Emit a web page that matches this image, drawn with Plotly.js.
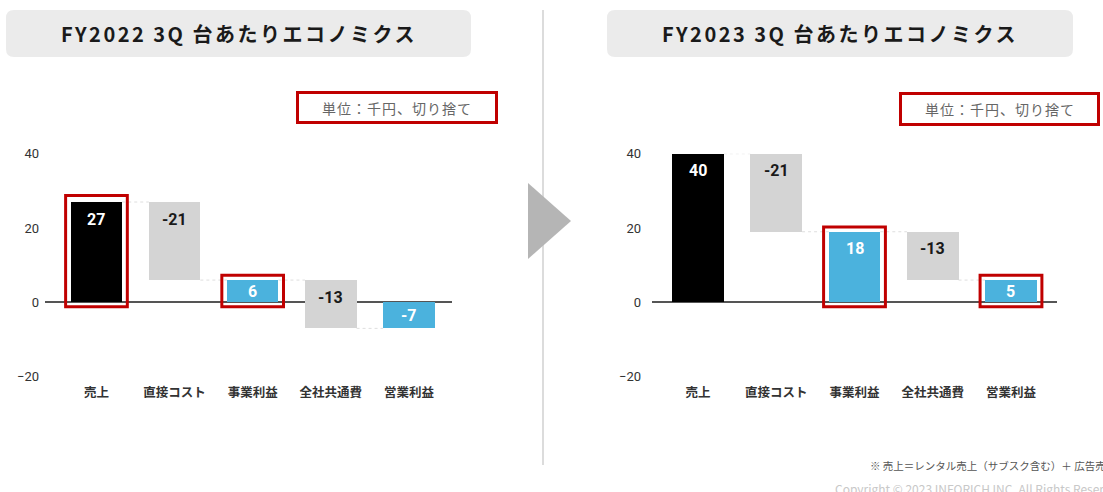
<!DOCTYPE html>
<html>
<head>
<meta charset="utf-8">
<script src="https://cdn.plot.ly/plotly-3.0.1.min.js"></script>
<style>
html,body{margin:0;padding:0;background:#fff;}
#chart{width:1103px;height:492px;}
g.annotation[data-index="0"] text, g.annotation[data-index="1"] text { letter-spacing: 2.5px; }
g.annotation[data-index="2"] text, g.annotation[data-index="3"] text { letter-spacing: 1px; }
</style>
</head>
<body>
<div id="chart"></div>
<script>
// ---- data ----
const categories = ['売上', '直接コスト', '事業利益', '全社共通費', '営業利益'];
const measures = ['absolute', 'relative', 'total', 'relative', 'total'];
const fy2022Values = [27, -21, null, -13, null];
const fy2022Labels = ['27', '-21', '6', '-13', '-7'];
const fy2023Values = [40, -21, null, -13, null];
const fy2023Labels = ['40', '-21', '18', '-13', '5'];
const fy2022Highlight = [0, 2];
const fy2023Highlight = [2, 4];
const yTicks = [-20, 0, 20, 40];
const panelTitles = ['FY2022 3Q 台あたりエコノミクス', 'FY2023 3Q 台あたりエコノミクス'];
const unitNote = '単位：千円、切り捨て';
const footnote = '※ 売上＝レンタル売上（サブスク含む）＋ 広告売上';
const copyright = 'Copyright © 2023 INFORICH INC. All Rights Reserved.';

// ---- styles ----
const colors = ['#000000', '#d4d4d4', '#4bb2dd', '#d4d4d4', '#4bb2dd'];
const labelColors = ['#ffffff', '#1a1a1a', '#ffffff', '#1a1a1a', '#ffffff'];
const RED = '#c00000';
const W = 1103, H = 492;
const px = v => v / W;
const py = v => 1 - v / H;
const JP = '"Noto Sans CJK JP", "Noto Sans", sans-serif';
const NUM = 'Roboto, "Noto Sans", sans-serif';

function build(values) {
  let cum = 0;
  const base = [], y = [], levels = [];
  values.forEach((v, i) => {
    const m = measures[i];
    if (m === 'absolute') { base.push(0); y.push(v); cum = v; }
    else if (m === 'relative') { base.push(cum); y.push(v); cum += v; }
    else { base.push(0); y.push(cum); }
    levels.push(cum);
  });
  return {base, y, levels};
}

const panels = [
  {vals: fy2022Values, labels: fy2022Labels, hl: fy2022Highlight, xa: 'x', ya: 'y'},
  {vals: fy2023Values, labels: fy2023Labels, hl: fy2023Highlight, xa: 'x2', ya: 'y2'}
];

const traces = [];
const shapes = [];
const annotations = [];

// title annotations first (indices 0,1), unit notes (2,3)
const titleCx = [238.5, 840];
titleCx.forEach((cx, k) => {
  annotations.push({xref: 'paper', yref: 'paper', x: px(cx), y: py(33.5), xanchor: 'center', yanchor: 'middle',
    text: panelTitles[k], showarrow: false, font: {family: JP, size: 20, color: '#1a1a1a', weight: 'bold'}});
});
const unitBoxes = [[296, 91, 498, 124], [899, 92, 1100, 126]];
unitBoxes.forEach(b => {
  annotations.push({xref: 'paper', yref: 'paper', x: px((b[0] + b[2]) / 2), y: py((b[1] + b[3]) / 2), xanchor: 'center', yanchor: 'middle',
    text: unitNote, showarrow: false, font: {family: JP, size: 14, color: '#666666'}});
});

// background decorations
const r = 8;
[[6, 10, 471, 57], [607, 10, 1073, 57]].forEach(b => {
  const [x0, y0, x1, y1] = b;
  const p = `M ${px(x0 + r)} ${py(y0)} L ${px(x1 - r)} ${py(y0)} Q ${px(x1)} ${py(y0)} ${px(x1)} ${py(y0 + r)} ` +
    `L ${px(x1)} ${py(y1 - r)} Q ${px(x1)} ${py(y1)} ${px(x1 - r)} ${py(y1)} L ${px(x0 + r)} ${py(y1)} ` +
    `Q ${px(x0)} ${py(y1)} ${px(x0)} ${py(y1 - r)} L ${px(x0)} ${py(y0 + r)} Q ${px(x0)} ${py(y0)} ${px(x0 + r)} ${py(y0)} Z`;
  shapes.push({type: 'path', xref: 'paper', yref: 'paper', path: p, fillcolor: '#ebebeb', line: {width: 0}, layer: 'below'});
});
unitBoxes.forEach(b => {
  shapes.push({type: 'rect', xref: 'paper', yref: 'paper', x0: px(b[0] + 1.5), x1: px(b[2] - 1.5), y0: py(b[1] + 1.5), y1: py(b[3] - 1.5),
    line: {color: RED, width: 3}, fillcolor: 'rgba(0,0,0,0)'});
});
// separator and arrow
shapes.push({type: 'line', xref: 'paper', yref: 'paper', x0: px(543), x1: px(543), y0: py(10), y1: py(465), line: {color: '#dcdcdc', width: 2}});
shapes.push({type: 'path', xref: 'paper', yref: 'paper', path: `M ${px(528)} ${py(183)} L ${px(571)} ${py(221)} L ${px(528)} ${py(259)} Z`,
  fillcolor: '#b5b5b5', line: {width: 0}});

panels.forEach(P => {
  const d = build(P.vals);
  // connectors
  for (let i = 0; i < categories.length - 1; i++) {
    shapes.push({type: 'line', xref: P.xa, yref: P.ya, x0: i + 0.33, x1: i + 1 - 0.33, y0: d.levels[i], y1: d.levels[i],
      line: {color: '#dedede', width: 1, dash: 'dot'}, layer: 'below'});
  }
  traces.push({type: 'bar', x: categories.map((c, i) => i), y: d.y, base: d.base, width: 0.66,
    marker: {color: colors, line: {width: 0}}, xaxis: P.xa, yaxis: P.ya, hoverinfo: 'skip', showlegend: false});
  // labels
  d.y.forEach((v, i) => {
    const top = Math.max(d.base[i], d.base[i] + v), bot = Math.min(d.base[i], d.base[i] + v);
    const big = (top - bot) > 10;
    annotations.push({xref: P.xa, yref: P.ya, x: i, y: big ? top : (top + bot) / 2, yshift: big ? -17 : 0,
      xanchor: 'center', yanchor: 'middle', showarrow: false, text: P.labels[i],
      font: {family: NUM, size: 16, color: labelColors[i], weight: 'bold'}});
  });
  // highlight boxes
  P.hl.forEach(i => {
    const top = Math.max(d.base[i], d.base[i] + d.y[i]);
    shapes.push({type: 'rect', xref: P.xa, yref: P.ya, x0: i - 0.395, x1: i + 0.395, y0: -1.2, y1: top + (i === 0 ? 1.75 : 1.3),
      line: {color: RED, width: 3}, fillcolor: 'rgba(0,0,0,0)'});
  });
});

// footnotes
annotations.push({xref: 'paper', yref: 'paper', x: px(868), y: py(465), xanchor: 'left', yanchor: 'middle', showarrow: false,
  text: footnote, font: {family: JP, size: 10.5, color: '#555555'}});
annotations.push({xref: 'paper', yref: 'paper', x: px(833), y: py(488), xanchor: 'left', yanchor: 'middle', showarrow: false,
  text: copyright, font: {family: JP, size: 12, color: '#c8c8c8'}});

const yDom = [1 - 376.7 / H, 1 - 153.7 / H];
const xCommon = {tickmode: 'array', tickvals: categories.map((c, i) => i), ticktext: categories, showgrid: false, zeroline: false,
  showline: false, ticks: '', ticklabelstandoff: 7, tickfont: {family: JP, size: 12.5, color: '#333333', weight: 'bold'}, fixedrange: true};
const yCommon = {range: [-20, 40], tickmode: 'array', tickvals: yTicks, showgrid: false, zeroline: true, zerolinecolor: '#555555',
  zerolinewidth: 2, showline: false, ticks: '', domain: yDom, tickfont: {family: NUM, size: 13, color: '#333333'}, fixedrange: true};

const layout = {
  width: W, height: H, margin: {l: 0, r: 0, t: 0, b: 0}, paper_bgcolor: '#ffffff', plot_bgcolor: '#ffffff',
  showlegend: false, bargap: 0,
  xaxis: Object.assign({}, xCommon, {domain: [px(45), px(452)], range: [-0.659, 4.552], anchor: 'y'}),
  yaxis: Object.assign({}, yCommon, {anchor: 'x', ticklabelstandoff: 5}),
  xaxis2: Object.assign({}, xCommon, {domain: [px(652), px(1057)], range: [-0.588, 4.588], anchor: 'y2'}),
  yaxis2: Object.assign({}, yCommon, {anchor: 'x2', ticklabelstandoff: 10}),
  shapes: shapes, annotations: annotations
};

Plotly.newPlot('chart', traces, layout, {displayModeBar: false, staticPlot: true});
</script>
</body>
</html>
